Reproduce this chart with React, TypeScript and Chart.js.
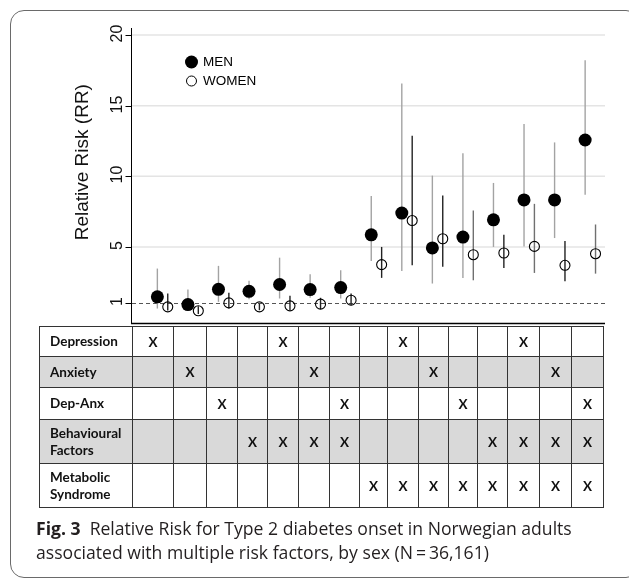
import React, { useEffect, useRef } from "react";
import { Chart, registerables } from "chart.js";

Chart.register(...registerables);

// ---------- data ----------
const GROUPS = [1, 2, 3, 4, 5, 6, 7, 8, 9, 10, 11, 12, 13, 14, 15];

const MEN_RR = [1.47, 0.92, 2.0, 1.86, 2.34, 1.98, 2.12, 5.86, 7.4, 4.93, 5.7, 6.92, 8.33, 8.33, 12.57];
const MEN_LO = [0.64, 0.5, 1.11, 1.3, 1.35, 1.4, 1.35, 4.01, 3.3, 2.41, 2.81, 5.0, 5.04, 5.63, 8.69];
const MEN_HI = [3.47, 1.98, 3.66, 2.6, 4.24, 3.06, 3.35, 8.6, 16.57, 10.05, 11.63, 9.53, 13.7, 12.4, 18.21];

const WOMEN_RR = [0.76, 0.48, 1.04, 0.76, 0.83, 0.95, 1.23, 3.75, 6.87, 5.58, 4.45, 4.57, 5.04, 3.7, 4.52];
const WOMEN_LO = [0.5, 0.25, 0.65, 0.52, 0.52, 0.6, 0.88, 2.81, 3.7, 3.59, 2.64, 3.51, 3.16, 2.57, 3.11];
const WOMEN_HI = [1.7, 0.8, 1.75, 1.0, 1.54, 1.4, 1.7, 5.0, 12.87, 8.64, 7.58, 5.86, 8.05, 5.42, 6.59];

const Y_TICKS = [1, 5, 10, 15, 20];
const Y_TITLE = "Relative Risk (RR)";
const SERIES_NAMES = ["MEN", "WOMEN"];

const ROW_LABELS = ["Depression", "Anxiety", "Dep-Anx", "Behavioural Factors", "Metabolic Syndrome"];
const DEPRESSION = [1, 0, 0, 0, 1, 0, 0, 0, 1, 0, 0, 0, 1, 0, 0];
const ANXIETY = [0, 1, 0, 0, 0, 1, 0, 0, 0, 1, 0, 0, 0, 1, 0];
const DEP_ANX = [0, 0, 1, 0, 0, 0, 1, 0, 0, 0, 1, 0, 0, 0, 1];
const BEHAVIOURAL = [0, 0, 0, 1, 1, 1, 1, 0, 0, 0, 0, 1, 1, 1, 1];
const METABOLIC = [0, 0, 0, 0, 0, 0, 0, 1, 1, 1, 1, 1, 1, 1, 1];
const ROWS = [DEPRESSION, ANXIETY, DEP_ANX, BEHAVIOURAL, METABOLIC];

const CAPTION_LABEL = "Fig. 3";
const CAPTION_LINE1 = "Relative Risk for Type 2 diabetes onset in Norwegian adults";
const CAPTION_LINE2 = "associated with multiple risk factors, by sex (N\u2009=\u200936,161)";

// ---------- styles / layout ----------
const WOMEN_BAR_COLORS = ["#222", "#222", "#222", "#222", "#222", "#222", "#222", "#222", "#222", "#222", "#707070", "#222", "#707070", "#222", "#707070"];
const MEN_BAR_COLOR = "#a3a3a3";
const COL_WIDTHS = [93, 41, 33, 31, 30, 31, 31, 30, 28, 31, 30, 29, 30, 32, 32, 32];
const ROW_HEIGHTS = [30, 31, 32, 44, 44];

const decorPlugin = {
  id: "rrDecor",
  beforeDatasetsDraw(chart: any) {
    const { ctx, chartArea: a, scales } = chart;
    const x = scales.x;
    const y = scales.y;
    ctx.save();
    ctx.strokeStyle = "#e4e4e4";
    ctx.lineWidth = 1.5;
    for (const t of Y_TICKS) {
      if (t === 1) continue;
      const py = y.getPixelForValue(t);
      ctx.beginPath();
      ctx.moveTo(a.left, py);
      ctx.lineTo(a.right, py);
      ctx.stroke();
    }
    ctx.setLineDash([4, 3]);
    ctx.strokeStyle = "#555";
    ctx.lineWidth = 1;
    const p1 = Math.round(y.getPixelForValue(1)) + 0.5;
    ctx.beginPath();
    ctx.moveTo(a.left, p1);
    ctx.lineTo(a.right, p1);
    ctx.stroke();
    ctx.setLineDash([]);
    chart.data.datasets.forEach((ds: any, di: number) => {
      ds.data.forEach((d: any, i: number) => {
        const px = x.getPixelForValue(d.x);
        ctx.strokeStyle = di === 0 ? MEN_BAR_COLOR : WOMEN_BAR_COLORS[i];
        ctx.lineWidth = 1.4;
        ctx.beginPath();
        ctx.moveTo(px, y.getPixelForValue(d.lo));
        ctx.lineTo(px, y.getPixelForValue(d.hi));
        ctx.stroke();
      });
    });
    ctx.restore();
  },
  afterDraw(chart: any) {
    const { ctx, chartArea: a, scales } = chart;
    const y = scales.y;
    ctx.save();
    ctx.strokeStyle = "#000";
    ctx.lineWidth = 1;
    const ax = Math.round(a.left) - 0.5;
    ctx.beginPath();
    ctx.moveTo(ax, a.top);
    ctx.lineTo(ax, a.bottom);
    ctx.stroke();
    ctx.lineWidth = 1.5;
    ctx.beginPath();
    ctx.moveTo(ax - 0.5, a.bottom);
    ctx.lineTo(a.right, a.bottom);
    ctx.stroke();
    ctx.lineWidth = 1;
    ctx.fillStyle = "#111";
    ctx.font = "16px 'Liberation Sans', Arial, sans-serif";
    for (const t of Y_TICKS) {
      const py = Math.round(y.getPixelForValue(t)) + 0.5;
      ctx.beginPath();
      ctx.moveTo(ax - 6, py);
      ctx.lineTo(ax, py);
      ctx.stroke();
      ctx.save();
      ctx.translate(a.left - 10.5, py);
      ctx.rotate(-Math.PI / 2);
      ctx.textAlign = "center";
      ctx.textBaseline = "alphabetic";
      ctx.fillText(String(t), 2, 0);
      ctx.restore();
    }
    ctx.save();
    ctx.font = "19px 'Liberation Sans', Arial, sans-serif";
    ctx.translate(87.5, y.getPixelForValue(11));
    ctx.rotate(-Math.PI / 2);
    ctx.textAlign = "center";
    ctx.textBaseline = "alphabetic";
    ctx.fillText(Y_TITLE, 0, 0);
    ctx.restore();
    ctx.font = "13.5px 'Liberation Sans', Arial, sans-serif";
    ctx.textAlign = "left";
    ctx.textBaseline = "middle";
    ctx.fillStyle = "#000";
    ctx.beginPath();
    ctx.arc(191.5, 62, 6.5, 0, Math.PI * 2);
    ctx.fill();
    ctx.fillText(SERIES_NAMES[0], 203, 62.5);
    ctx.beginPath();
    ctx.lineWidth = 1;
    ctx.arc(191.5, 81, 5, 0, Math.PI * 2);
    ctx.stroke();
    ctx.fillText(SERIES_NAMES[1], 203, 81.5);
    ctx.restore();
  },
};

function RRChart() {
  const ref = useRef<HTMLCanvasElement | null>(null);
  useEffect(() => {
    if (!ref.current) return;
    const chart = new Chart(ref.current, {
      type: "scatter",
      data: {
        datasets: [
          {
            label: SERIES_NAMES[0],
            data: GROUPS.map((g, i) => ({ x: g - 0.17, y: MEN_RR[i], lo: MEN_LO[i], hi: MEN_HI[i] })) as any,
            pointRadius: 6.5,
            pointBackgroundColor: "#000",
            pointBorderWidth: 0,
            pointBorderColor: "#000",
          },
          {
            label: SERIES_NAMES[1],
            data: GROUPS.map((g, i) => ({ x: g + 0.17, y: WOMEN_RR[i], lo: WOMEN_LO[i], hi: WOMEN_HI[i] })) as any,
            pointRadius: 5,
            pointBackgroundColor: "rgba(0,0,0,0)",
            pointBorderColor: "#000",
            pointBorderWidth: 1.1,
          },
        ],
      },
      options: {
        animation: false,
        responsive: false,
        maintainAspectRatio: false,
        devicePixelRatio: 1,
        events: [],
        layout: { padding: { left: 132, right: 24, top: 28, bottom: 6 } },
        plugins: { legend: { display: false }, tooltip: { enabled: false } },
        scales: {
          x: { type: "linear", min: 0, max: 15.48, display: false },
          y: { type: "linear", min: -0.42, max: 20.5, display: false },
        },
      },
      plugins: [decorPlugin],
    });
    return () => chart.destroy();
  }, []);
  return (
    <canvas
      ref={ref}
      width={629}
      height={330}
      style={{ position: "absolute", left: 0, top: 0, width: 629, height: 330 }}
    />
  );
}

export default function App() {
  const cell: React.CSSProperties = { border: "1px solid #333", padding: 0 };
  return (
    <div style={{ position: "absolute", left: 0, top: 0, width: 629, height: 578, overflow: "hidden", background: "#fff" }}>
      <div
        style={{
          position: "absolute",
          left: 10,
          top: 10,
          width: 630,
          height: 568,
          border: "1.5px solid #6a6a6a",
          borderRadius: 14,
          boxSizing: "border-box",
        }}
      />
      <RRChart />
      <table
        style={{
          position: "absolute",
          left: 39,
          top: 326,
          width: 564,
          borderCollapse: "collapse",
          tableLayout: "fixed",
          fontFamily: "Lato, 'Open Sans', sans-serif",
          color: "#111",
        }}
      >
        <colgroup>
          {COL_WIDTHS.map((w, i) => (
            <col key={i} style={{ width: w }} />
          ))}
        </colgroup>
        <tbody>
          {ROWS.map((row, r) => (
            <tr key={r} style={{ height: ROW_HEIGHTS[r], background: r % 2 === 1 ? "#d9d9d9" : "#fff" }}>
              <td style={{ ...cell, paddingLeft: 10, fontWeight: 700, fontSize: 13.5, lineHeight: "17px" }}>
                {ROW_LABELS[r].split(" ").map((w, k) => (
                  <div key={k}>{w}</div>
                ))}
              </td>
              {row.map((v, c) => (
                <td key={c} style={{ ...cell, textAlign: "center", fontWeight: 700, fontSize: 13.5 }}>
                  {v ? "X" : ""}
                </td>
              ))}
            </tr>
          ))}
        </tbody>
      </table>
      <div
        style={{
          position: "absolute",
          left: 36,
          top: 516,
          fontFamily: "'Open Sans', sans-serif",
          fontSize: 17.6,
          lineHeight: "24px",
          color: "#231f20",
          whiteSpace: "nowrap",
        }}
      >
        <span style={{ fontWeight: 700, marginRight: 9 }}>{CAPTION_LABEL}</span>
        {CAPTION_LINE1}
        <br />
        {CAPTION_LINE2}
      </div>
    </div>
  );
}
